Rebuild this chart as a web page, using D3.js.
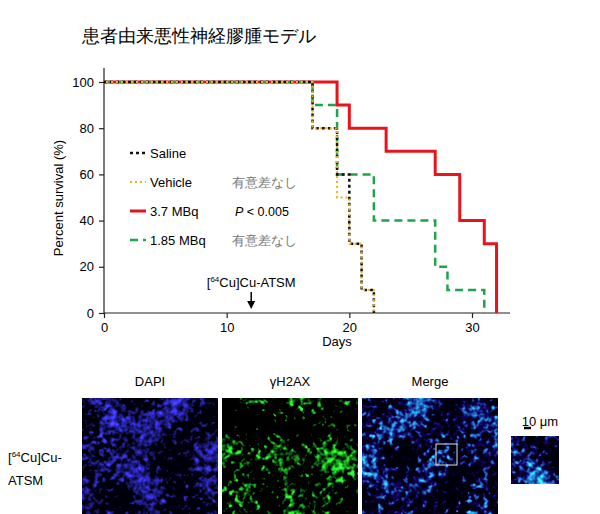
<!DOCTYPE html>
<html><head><meta charset="utf-8">
<script src="https://cdn.jsdelivr.net/npm/d3@7"></script>
<style>body{margin:0;background:#fff}text{font-family:Arial,"Liberation Sans",sans-serif}</style>
</head><body><svg id="c" width="600" height="514"></svg>
<script>
// step curves: [day, survival%]
const saline = [[0,100],[17,80],[19,60],[20,30],[21,10],[22,0]]
const vehicle = [[0,100],[17,80],[19,50],[20,30],[21,10],[22,0]]
const mbq37 = [[0,100],[19,90],[20,80],[23,70],[27,60],[29,40],[31,30],[32,0]]
const mbq185 = [[0,100],[17,90],[19,60],[22,40],[27,20],[28,10],[31,0]]
const xTicks = [0,10,20,30]
const yTicks = [0,20,40,60,80,100]
const legendItems = [
  {name:"Saline", note:""},
  {name:"Vehicle", note:"有意差なし"},
  {name:"3.7 MBq", note:"P < 0.005"},
  {name:"1.85 MBq", note:"有意差なし"}
]
const panels = ["DAPI","γH2AX","Merge"]

const svg = d3.select("#c")
const x = d3.scaleLinear().domain([0,30]).range([104,472])
const y = d3.scaleLinear().domain([0,100]).range([313,82])

svg.append("text").attr("x",82).attr("y",42).attr("font-size",17.5)
  .attr("font-family","'Noto Sans CJK JP'").text("患者由来悪性神経膠腫モデル")

svg.append("g").attr("transform","translate(0,313)")
  .call(d3.axisBottom(x).tickValues(xTicks).tickSize(5).tickPadding(5))
  .call(g=>g.select(".domain").attr("d","M104,0H510"))
  .call(g=>g.selectAll("text").attr("font-size",13))
svg.append("g").attr("transform","translate(104,0)")
  .call(d3.axisLeft(y).tickValues(yTicks).tickSize(5).tickPadding(5))
  .call(g=>g.select(".domain").attr("d","M0,68V313"))
  .call(g=>g.selectAll("text").attr("font-size",13))
svg.selectAll(".domain,.tick line").attr("stroke","#222").attr("stroke-width",1.2)

svg.append("text").attr("x",337).attr("y",346).attr("font-size",13).attr("text-anchor","middle").text("Days")
svg.append("text").attr("transform","translate(63,198) rotate(-90)").attr("font-size",13)
  .attr("text-anchor","middle").text("Percent survival (%)")

const line = d3.line().x(d=>x(d[0])).y(d=>y(d[1])).curve(d3.curveStepAfter)
const series = [
  {d:mbq37, c:"#e8141b", w:3, dash:null},
  {d:mbq185, c:"#1fa44a", w:2.5, dash:"8,5"},
  {d:saline, c:"#111", w:2.5, dash:"3,3"},
  {d:vehicle, c:"#f2b01e", w:2, dash:"2,3"}
]
series.forEach(s=>{
  svg.append("path").attr("d",line(s.d)).attr("fill","none").attr("stroke",s.c)
    .attr("stroke-width",s.w).attr("stroke-dasharray",s.dash)
    .attr("stroke-dashoffset", s.c==="#f2b01e"?3:0)
})

const leg = svg.append("g")
const lstyles = [series[2],series[3],series[0],series[1]]
legendItems.forEach((it,i)=>{
  const yy = 153+i*29
  const s = lstyles[i]
  leg.append("line").attr("x1",130).attr("x2",146).attr("y1",yy).attr("y2",yy)
    .attr("stroke",s.c).attr("stroke-width",s.w).attr("stroke-dasharray",s.dash)
  leg.append("text").attr("x",150).attr("y",yy+5).attr("font-size",13).text(it.name)
  if(it.note){
    const t = leg.append("text").attr("x", i===2?235:232).attr("y",yy+5).attr("font-size",12.5)
    if(i===2){t.append("tspan").attr("font-style","italic").text("P");t.append("tspan").text(" < 0.005")}
    else t.attr("fill","#777").attr("font-family","'Noto Sans CJK JP'").text(it.note)
  }
})

const ann = svg.append("text").attr("x",x(12)).attr("y",287).attr("font-size",13).attr("text-anchor","middle")
ann.append("tspan").text("[")
ann.append("tspan").attr("font-size",8).attr("dy",-5).text("64")
ann.append("tspan").attr("dy",5).text("Cu]Cu-ATSM")
svg.append("line").attr("x1",x(12)).attr("x2",x(12)).attr("y1",292).attr("y2",303).attr("stroke","#000").attr("stroke-width",1.5)
svg.append("path").attr("d",`M${x(12)-4},301L${x(12)+4},301L${x(12)},309Z`)

// microscopy panels (textures via filters)
const defs = svg.append("defs")
function texture(id, seed, matrix){
  const f = defs.append("filter").attr("id",id).attr("x",0).attr("y",0).attr("width",1).attr("height",1)
    .attr("color-interpolation-filters","sRGB")
  f.append("feTurbulence").attr("type","fractalNoise").attr("baseFrequency",0.18).attr("numOctaves",2).attr("seed",seed).attr("result","n")
  f.append("feTurbulence").attr("type","fractalNoise").attr("baseFrequency",0.025).attr("numOctaves",1).attr("seed",7).attr("result","m")
  f.append("feComposite").attr("in","n").attr("in2","m").attr("operator","arithmetic").attr("k2",1.2).attr("k3",1.4).attr("k4",-0.6).attr("result","s")
  f.append("feColorMatrix").attr("in","s").attr("type","matrix").attr("values",matrix)
}
texture("tDapi",2,"0.55 0 0 0 0  0.5 0 0 0 0  2.2 0 0 0 0.05  0 0 0 0 1")
texture("tH2ax",5,"0.6 0 0 0 -0.1  3.4 0 0 0 -0.45  0.6 0 0 0 -0.08  0 0 0 0 1")
texture("tMerge",2,"0.4 0 0 0 0  2.6 0 0 0 -0.4  2.2 0 0 0 0.05  0 0 0 0 1")
const px = [82,222,362]
panels.forEach((p,i)=>{
  svg.append("text").attr("x",px[i]+68).attr("y",386).attr("font-size",13).attr("text-anchor","middle").text(p)
  svg.append("rect").attr("x",px[i]).attr("y",398).attr("width",136).attr("height",116)
    .attr("fill","#000").attr("filter",`url(#${["tDapi","tH2ax","tMerge"][i]})`)
})
svg.append("rect").attr("x",436).attr("y",444).attr("width",21).attr("height",21).attr("fill","none").attr("stroke","#ddd").attr("stroke-width",1)
svg.append("rect").attr("x",511).attr("y",436).attr("width",48).attr("height",48).attr("fill","#000").attr("filter","url(#tMerge)")
svg.append("text").attr("x",540).attr("y",426).attr("font-size",13).attr("text-anchor","middle").text("10 μm")
svg.append("line").attr("x1",524).attr("x2",531).attr("y1",428).attr("y2",428).attr("stroke","#000").attr("stroke-width",2.5)
const lab = svg.append("text").attr("x",8).attr("y",462).attr("font-size",13)
lab.append("tspan").text("[")
lab.append("tspan").attr("font-size",8).attr("dy",-5).text("64")
lab.append("tspan").attr("dy",5).text("Cu]Cu-")
svg.append("text").attr("x",8).attr("y",485).attr("font-size",13).text("ATSM")
</script></body></html>
